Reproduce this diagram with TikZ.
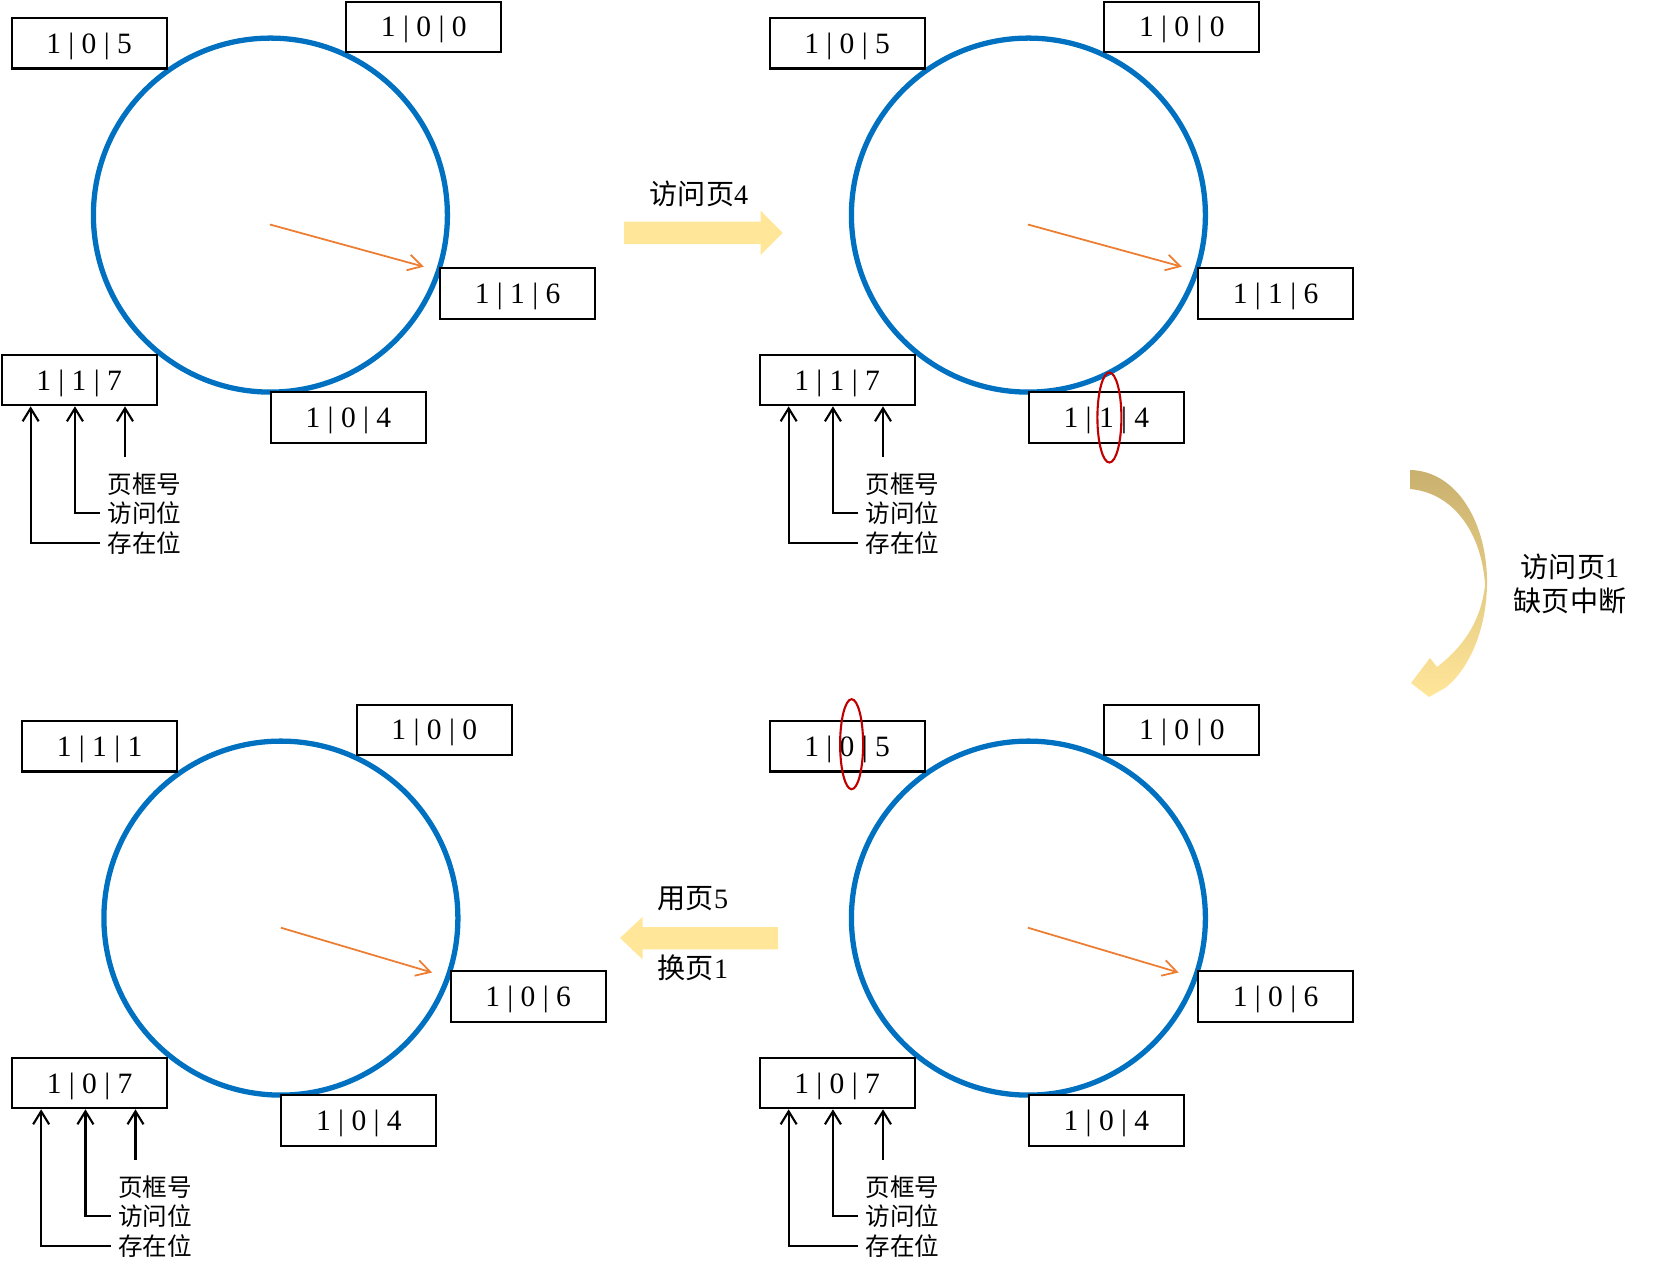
\documentclass[tikz,border=0pt]{standalone}
\usepackage{fontspec}
\setmainfont{Liberation Serif}
\newfontfamily\cjk{Noto Sans CJK SC}
\usetikzlibrary{arrows.meta}
\definecolor{ringblue}{HTML}{0070C0}
\definecolor{handorange}{HTML}{ED7D31}
\definecolor{markred}{HTML}{C00000}
\definecolor{arrowyellow}{HTML}{FFE699}
\definecolor{arrowtan}{HTML}{C9B06E}

\begin{document}
\begin{tikzpicture}[x=0.1mm,y=-0.1mm,
	entry/.style={draw,fill=white,line width=0.6pt,minimum width=15.5mm,minimum height=5.05mm,inner sep=0pt,
		text height=2mm,text depth=0mm,font=\fontsize{8.4}{9}\selectfont},
	clock/.style={draw=ringblue,circle,line width=1.5pt,minimum size=35.4mm,inner sep=0pt},
	hand/.style={draw=handorange,line width=0.5pt,-{Straight Barb[length=1.4mm,width=1.6mm]}},
	legarrow/.style={line width=0.6pt,-{Straight Barb[length=1.3mm,width=1.6mm]}},
	legtext/.style={anchor=west,inner xsep=0.7mm,inner ysep=0pt,font=\cjk\fontsize{7}{8}\selectfont},
	steptext/.style={font=\fontsize{8}{9}\selectfont},
	hitmark/.style={draw=markred,line width=0.6pt},
	bigarrow/.style={fill=arrowyellow}]
	\useasboundingbox (0,0) rectangle (1653,1269);

	%clock 1
	\node[clock] (p1clock) at (270.4,215.1) {};
	\node[entry] (p1b5) at (89.1,43.2) {1 | 0 | 5};
	\node[entry] (p1b0) at (423.8,26.9) {1 | 0 | 0};
	\node[entry] (p1b6) at (517.6,293.6) {1 | 1 | 6};
	\node[entry] (p1b7) at (79.1,380) {1 | 1 | 7};
	\node[entry] (p1b4) at (348.4,417.5) {1 | 0 | 4};
	\coordinate (p1hub) at (269.9,224.5);
	\coordinate (p1tip) at (423.8,266.7);
	\draw[hand] (p1hub) -- (p1tip);
	%
	\node[legtext] (p1frame) at (100,484) {页框号};
	\node[legtext] (p1use) at (100,512.7) {访问位};
	\node[legtext] (p1here) at (100,542.7) {存在位};
	\coordinate (p1foot) at (125,457);
	\draw[legarrow] (p1foot) -- (p1foot |- p1b7.south);
	\draw[legarrow] (p1use.west) -| ([xshift=7.44mm]p1b7.south west);
	\draw[legarrow] (p1here.west) -| ([xshift=3.01mm]p1b7.south west);

	%clock 2
	\begin{scope}[shift={(758,0)}]
	\node[clock] (p2clock) at (270.4,215.1) {};
	\node[entry] (p2b5) at (89.1,43.2) {1 | 0 | 5};
	\node[entry] (p2b0) at (423.8,26.9) {1 | 0 | 0};
	\node[entry] (p2b6) at (517.6,293.6) {1 | 1 | 6};
	\node[entry] (p2b7) at (79.1,380) {1 | 1 | 7};
	\node[entry] (p2b4) at (348.4,417.5) {1 | 1 | 4};
	\draw[hitmark] ([xshift=0.3mm]p2b4.center) ellipse (1.2mm and 4.5mm);
	\coordinate (p2hub) at (269.9,224.5);
	\coordinate (p2tip) at (423.8,266.7);
	\draw[hand] (p2hub) -- (p2tip);
	%
	\node[legtext] (p2frame) at (100,484) {页框号};
	\node[legtext] (p2use) at (100,512.7) {访问位};
	\node[legtext] (p2here) at (100,542.7) {存在位};
	\coordinate (p2foot) at (125,457);
	\draw[legarrow] (p2foot) -- (p2foot |- p2b7.south);
	\draw[legarrow] (p2use.west) -| ([xshift=7.44mm]p2b7.south west);
	\draw[legarrow] (p2here.west) -| ([xshift=3.01mm]p2b7.south west);
	\end{scope}

	%clock 3
	\begin{scope}[shift={(10.5,703)}]
	\node[clock] (p3clock) at (270.4,215.1) {};
	\node[entry] (p3b1) at (89.1,43.2) {1 | 1 | 1};
	\node[entry] (p3b0) at (423.8,26.9) {1 | 0 | 0};
	\node[entry] (p3b6) at (517.6,293.6) {1 | 0 | 6};
	\node[entry] (p3b7) at (79.1,380) {1 | 0 | 7};
	\node[entry] (p3b4) at (348.4,417.5) {1 | 0 | 4};
	\coordinate (p3hub) at (270.4,224.7);
	\coordinate (p3tip) at (421.5,269.5);
	\draw[hand] (p3hub) -- (p3tip);
	%
	\node[legtext] (p3frame) at (100,484) {页框号};
	\node[legtext] (p3use) at (100,512.7) {访问位};
	\node[legtext] (p3here) at (100,542.7) {存在位};
	\coordinate (p3foot) at (125,457);
	\draw[legarrow] (p3foot) -- (p3foot |- p3b7.south);
	\draw[legarrow] (p3use.west) -| ([xshift=7.44mm]p3b7.south west);
	\draw[legarrow] (p3here.west) -| ([xshift=3.01mm]p3b7.south west);
	\end{scope}

	%clock 4
	\begin{scope}[shift={(758,703)}]
	\node[clock] (p4clock) at (270.4,215.1) {};
	\node[entry] (p4b5) at (89.1,43.2) {1 | 0 | 5};
	\node[entry] (p4b0) at (423.8,26.9) {1 | 0 | 0};
	\node[entry] (p4b6) at (517.6,293.6) {1 | 0 | 6};
	\node[entry] (p4b7) at (79.1,380) {1 | 0 | 7};
	\node[entry] (p4b4) at (348.4,417.5) {1 | 0 | 4};
	\draw[hitmark] ([xshift=0.45mm,yshift=0.2mm]p4b5.center) ellipse (1.15mm and 4.5mm);
	\coordinate (p4hub) at (269.9,224.7);
	\coordinate (p4tip) at (420.6,269.5);
	\draw[hand] (p4hub) -- (p4tip);
	%
	\node[legtext] (p4frame) at (100,484) {页框号};
	\node[legtext] (p4use) at (100,512.7) {访问位};
	\node[legtext] (p4here) at (100,542.7) {存在位};
	\coordinate (p4foot) at (125,457);
	\draw[legarrow] (p4foot) -- (p4foot |- p4b7.south);
	\draw[legarrow] (p4use.west) -| ([xshift=7.44mm]p4b7.south west);
	\draw[legarrow] (p4here.west) -| ([xshift=3.01mm]p4b7.south west);
	\end{scope}

	%steps
	\fill[bigarrow] (624,221.7) -- (760.7,221.7) -- (760.7,210.7) -- (782.7,232.8)
		-- (760.7,255) -- (760.7,244) -- (624,244) -- cycle;
	\node[steptext] (visit4) at (699,194) {{\cjk 访问页}4};
	%
	\shade[top color=arrowtan,middle color=arrowtan!45!arrowyellow,bottom color=arrowyellow]
		(1410,470) .. controls (1458,471) and (1488,525) .. (1487,585)
		.. controls (1486,635) and (1466,672) .. (1445,688)
		-- (1429,697) -- (1411,683) -- (1430,658) -- (1437,667)
		.. controls (1462,648) and (1481,622) .. (1485,585)
		.. controls (1482,535) and (1455,493) .. (1410,489) -- cycle;
	\node[steptext] (visit1) at (1570,567) {{\cjk 访问页}1};
	\node[steptext] (fault) at (1570,601) {\cjk 缺页中断};
	%
	\fill[bigarrow] (778,927) -- (642.7,927) -- (642.7,916.7) -- (620,938)
		-- (642.7,959.5) -- (642.7,949.3) -- (778,949.3) -- cycle;
	\node[steptext] (use5) at (693,899) {{\cjk 用页}5};
	\node[steptext] (swap1) at (693,968) {{\cjk 换页}1};
\end{tikzpicture}
\end{document}
